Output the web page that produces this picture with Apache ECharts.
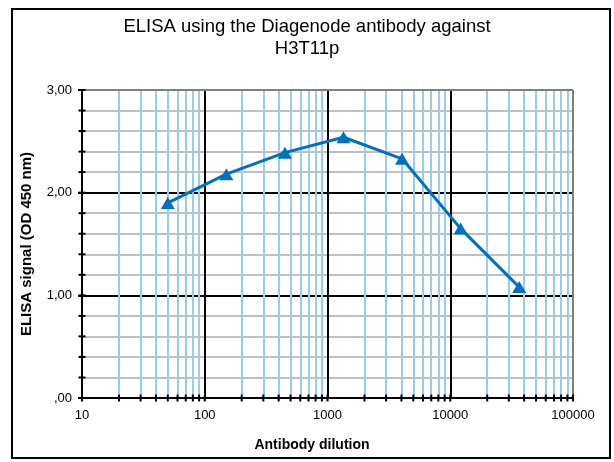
<!DOCTYPE html>
<html>
<head>
<meta charset="utf-8">
<script src="https://cdn.jsdelivr.net/npm/echarts@6/dist/echarts.min.js"></script>
<style>
html,body{margin:0;padding:0;background:#fff;}
#chart{width:614px;height:462px;}
</style>
</head>
<body>
<div id="chart"></div>
<script>
// Data
var dilutions = [50, 150, 450, 1350, 4050, 12150, 36450];
var signals = [1.90, 2.18, 2.39, 2.54, 2.33, 1.65, 1.08];
var xTickLabels = ['10', '100', '1000', '10000', '100000'];
var yTickLabels = [',00', '1,00', '2,00', '3,00'];
var titleText = 'ELISA using the Diagenode antibody against\nH3T11p';
var xTitle = 'Antibody dilution';
var yTitle = 'ELISA signal (OD 450 nm)';

// gridline positions (log decades)
var decades = [10, 100, 1000, 10000];
var minorX = [];
decades.forEach(function (d) { for (var m = 2; m <= 9; m++) minorX.push(m * d); });
var majorX = [100, 1000, 10000];
var allXTicks = minorX.concat([10, 100, 1000, 10000, 100000]);
var yTicks = [];
for (var i = 0; i <= 15; i++) yTicks.push(Math.round(i * 2) / 10);

var chart = echarts.init(document.getElementById('chart'), null, {renderer: 'canvas'});
var font = '"Liberation Sans", Arial, sans-serif';

var option = {
  animation: false,
  backgroundColor: '#fff',
  title: {
    text: titleText,
    left: 'center',
    top: 11,
    textStyle: {fontFamily: font, fontSize: 18.5, fontWeight: 'normal', color: '#000', lineHeight: 22}
  },
  graphic: [
    {type: 'rect', shape: {x: 12, y: 9, width: 598, height: 449}, style: {fill: 'none', stroke: '#000', lineWidth: 2}, z: 100},
    {type: 'text', x: 312, y: 445, style: {text: xTitle, fontFamily: font, fontSize: 14, fontWeight: 'bold', fill: '#000', textAlign: 'center', textVerticalAlign: 'middle'}}
  ],
  grid: {left: 82, top: 90, right: 41, bottom: 64, containLabel: false},
  xAxis: {
    type: 'log',
    logBase: 10,
    min: 10,
    max: 100000,
    z: 10,
    axisLine: {show: true, lineStyle: {color: '#000', width: 2}},
    axisTick: {show: false},
    splitLine: {show: false},
    minorTick: {show: false},
    axisLabel: {
      margin: 11,
      fontFamily: font, fontSize: 13, color: '#000',
      formatter: function (v) {
        var idx = Math.round(Math.log10(v)) - 1;
        return xTickLabels[idx] !== undefined ? xTickLabels[idx] : '';
      }
    }
  },
  yAxis: {
    type: 'value',
    min: 0,
    max: 3,
    interval: 1,
    name: yTitle,
    nameLocation: 'middle',
    nameGap: 48,
    nameTextStyle: {fontFamily: font, fontSize: 15, fontWeight: 'bold', color: '#000'},
    axisLine: {show: true, lineStyle: {color: '#000', width: 2}},
    axisTick: {show: true, length: 4, lineStyle: {color: '#000', width: 2}},
    axisLabel: {
      margin: 10,
      fontFamily: font, fontSize: 13, color: '#000',
      formatter: function (v) { return yTickLabels[Math.round(v)]; }
    },
    splitLine: {show: true, lineStyle: {color: '#000', width: 2}},
    minorTick: {show: false, splitNumber: 5},
    minorSplitLine: {show: true, lineStyle: {color: '#C0C0C0', width: 2}}
  },
  series: [
    {
      type: 'line', data: [], z: 1, silent: true,
      markLine: {
        silent: true, symbol: 'none', animation: false,
        label: {show: false},
        emphasis: {disabled: true},
        lineStyle: {color: '#99CCEE', width: 2, type: 'solid'},
        data: minorX.map(function (v) { return {xAxis: v}; })
      }
    },
    {
      type: 'line', data: [], z: 2, silent: true,
      markLine: {
        silent: true, symbol: 'none', animation: false,
        label: {show: false},
        emphasis: {disabled: true},
        lineStyle: {color: '#000', width: 2, type: 'solid'},
        data: majorX.map(function (v) { return {xAxis: v}; }).concat([
          {xAxis: 100000, lineStyle: {color: '#808080', width: 2, type: 'solid'}},
          {yAxis: 3, lineStyle: {color: '#808080', width: 2, type: 'solid'}}
        ])
      },
      markPoint: {
        silent: true, animation: false,
        label: {show: false},
        symbol: 'rect',
        itemStyle: {color: '#000'},
        data: allXTicks.map(function (v) { return {coord: [v, 0], symbolSize: [2, 7]}; })
          .concat(yTicks.map(function (v) { return {coord: [10, v], symbolSize: [7, 2]}; }))
      }
    },
    {
      type: 'line',
      z: 5,
      clip: false,
      data: dilutions.map(function (d, i) { return [d, signals[i]]; }),
      symbol: 'triangle',
      symbolSize: [14, 12],
      lineStyle: {color: '#0070C0', width: 3},
      itemStyle: {color: '#0070C0'}
    }
  ]
};
chart.setOption(option);
</script>
</body>
</html>
